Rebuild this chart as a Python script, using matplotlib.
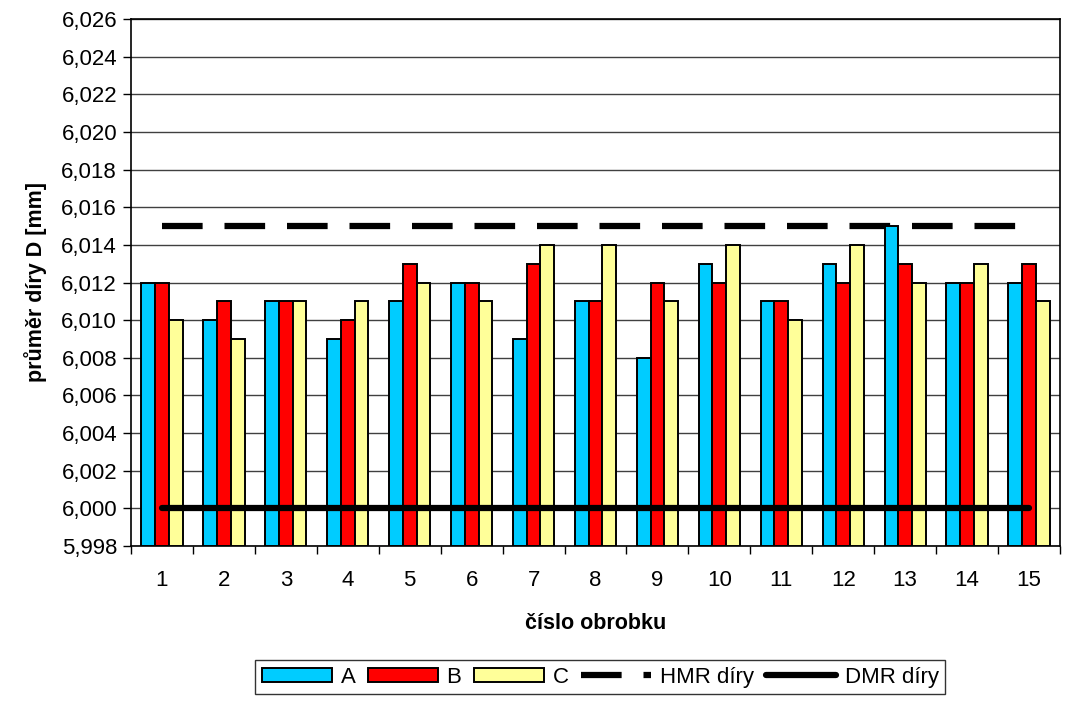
import numpy as np
import matplotlib
matplotlib.use("Agg")
import matplotlib.pyplot as plt
from matplotlib.ticker import MultipleLocator, FuncFormatter, FixedLocator

plt.rcParams['font.family'] = ['Liberation Sans', 'DejaVu Sans']

workpieces = list(range(1, 16))
series_a = [6.012, 6.010, 6.011, 6.009, 6.011, 6.012, 6.009, 6.011, 6.008, 6.013, 6.011, 6.013, 6.015, 6.012, 6.012]
series_b = [6.012, 6.011, 6.011, 6.010, 6.013, 6.012, 6.013, 6.011, 6.012, 6.012, 6.011, 6.012, 6.013, 6.012, 6.013]
series_c = [6.010, 6.009, 6.011, 6.011, 6.012, 6.011, 6.014, 6.014, 6.011, 6.014, 6.010, 6.014, 6.012, 6.013, 6.011]
hmr = 6.015
dmr = 6.000
y_min, y_max = 5.998, 6.026

fig = plt.figure(figsize=(10.66, 7.02), dpi=100)
ax = fig.add_axes([131/1066, 1 - 546/702, (1060 - 131)/1066, (546 - 19)/702])

x = np.arange(len(workpieces))
w = 1 / 4.5
base = y_min
handles = []
for i, (vals, col, lab) in enumerate([(series_a, '#00CCFF', 'A'),
                                      (series_b, '#FF0000', 'B'),
                                      (series_c, '#FFFF99', 'C')]):
    v = np.array(vals)
    h = ax.bar(x + (i - 1) * w, v - base, bottom=base, width=w, color=col,
               edgecolor='black', linewidth=1.4, label=lab, zorder=3)
    handles.append(h)

h_hmr, = ax.plot(x, [hmr] * len(x), color='black', linewidth=4.5, dashes=(6.5, 3.5),
                 dash_capstyle='butt', label='HMR díry', zorder=2.5)
h_dmr, = ax.plot(x, [dmr] * len(x), color='black', linewidth=4.5, solid_capstyle='round',
                 label='DMR díry', zorder=4)
handles += [h_hmr, h_dmr]

ax.set_xlim(-0.5, len(x) - 0.5)
ax.set_ylim(y_min, y_max)
ax.yaxis.set_major_locator(MultipleLocator(0.002))
ax.yaxis.set_major_formatter(FuncFormatter(lambda v, p: f"{v:.3f}".replace('.', ',')))
ax.set_xticks(x)
ax.set_xticklabels([str(n) for n in workpieces])
ax.xaxis.set_minor_locator(FixedLocator(np.arange(-0.5, len(x), 1)))
ax.tick_params(axis='x', which='major', length=0, pad=17, labelsize=16)
ax.tick_params(axis='x', which='minor', length=6, width=1, direction='out')
ax.tick_params(axis='y', length=6, width=1, direction='out', labelsize=16, pad=4)

ax.grid(axis='y', color='#404040', linewidth=1, zorder=0)
ax.set_axisbelow(True)
for s in ax.spines.values():
    s.set_linewidth(1.2)
    s.set_color('black')

ax.set_xlabel('číslo obrobku', fontsize=15.5, fontweight='bold', labelpad=16)
ax.set_ylabel('průměr díry D [mm]', fontsize=15.5, fontweight='bold', labelpad=10)

leg = fig.legend(handles=handles, labels=[h.get_label() for h in handles],
                 loc='upper center', bbox_to_anchor=(0.563, 1 - 660/702), ncol=5,
                 frameon=True, fancybox=False, edgecolor='black', fontsize=16,
                 handlelength=3.15, handletextpad=0.4, columnspacing=0.55,
                 borderpad=0.3, handleheight=0.55, borderaxespad=0.0)
leg.get_frame().set_linewidth(1.0)

fig.savefig('out.png', dpi=100)
